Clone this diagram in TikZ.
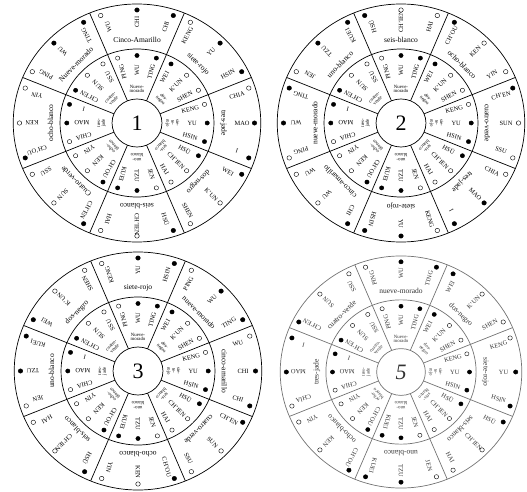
\documentclass[tikz,border=0pt]{standalone}
\usepackage{fontspec}
\setmainfont{Liberation Serif}
\tikzset{
  rim/.style={line width=0.7pt},
  word/.style={font=\fontsize{6.4}{7}\selectfont, inner sep=0pt},
  tag/.style={font=\fontsize{7.5}{8}\selectfont, inner sep=0pt},
  small tag/.style={font=\fontsize{4.8}{4.8}\selectfont, align=center, inner sep=0pt},
  yin/.style={fill=black, draw=black, line width=0.4pt},
  yang/.style={fill=white, draw=black, line width=0.4pt},
  num/.style={font=\fontsize{22}{22}\selectfont},
}
% the inner ring is the same in every wheel
\newcommand\innerring{%
  \draw[rim] (0,0) circle (24) (0,0) circle (74) (0,0) circle (119);
  \foreach \a in {22.5,67.5,...,337.5}
    \draw[rim] (\a:24) -- (\a:119);
  \foreach \a/\lab/\wa/\wb/\wc/\da/\db/\dc in {
      90/{Nueve-\\morado}/PING/WU/TING/yang/yin/yin,
      45/{dos-\\negro}/WEI/K'UN/SHEN/yin/yang/yang,
      0/{sie-\\te-\\rojo}/KENG/YU/HSIN/yang/yin/yin,
      -45/{seis-\\blanco}/HSÜ/CH'IEN/HAI/yin/yang/yang,
      -90/{uno-\\blanco}/JEN/TZU/KUEI/yang/yin/yin,
      -135/{ocho-\\blanco}/CH'OU/KEN/YIN/yin/yang/yang,
      180/{tres-\\jade}/CHIA/MAO/I/yang/yin/yin,
      135/{cuatro-\\verde}/CH'EN/SUN/SSU/yin/yang/yang}{
    \node[small tag, rotate=\a-90] at (\a:34) {\lab};
    \node[word, rotate=\a+15] at (\a+15:53) {\wa};
    \node[word, rotate=\a] at (\a:53) {\wb};
    \node[word, rotate=\a-15] at (\a-15:53) {\wc};
    \filldraw[\da] (\a+16:67.5) circle (2.1);
    \filldraw[\db] (\a:67.5) circle (2.1);
    \filldraw[\dc] (\a-16:67.5) circle (2.1);
  }}
% outer ring: one star per sector
\newcommand\outerring[1]{%
  \foreach \a/\lab/\wa/\wb/\wc/\da/\db/\dc in {#1}{
    \node[tag, rotate=\a-90] at (\a:83) {\lab};
    \node[word, rotate=\a+16] at (\a+16:100) {\wa};
    \node[word, rotate=\a] at (\a:101) {\wb};
    \node[word, rotate=\a-16] at (\a-16:100) {\wc};
    \filldraw[\da] (\a+18:113) circle (2.2);
    \filldraw[\db] (\a:113) circle (2.2);
    \filldraw[\dc] (\a-18:113) circle (2.2);
  }}

\begin{document}
\begin{tikzpicture}[x=1pt, y=1pt]
\useasboundingbox (0,0) rectangle (527,491);

% wheel 1
\begin{scope}[shift={(137,368)}, xscale=1.04]
  \innerring
  \outerring{90/Cinco-Amarillo/WU/CHI/CHI/yang/yin/yin,
    45/siete-rojo/KENG/YU/HSIN/yang/yin/yin,
    0/tres-jade/CHIA/MAO/I/yang/yin/yin,
    -45/dos-negro/WEI/K'UN/SHEN/yin/yang/yang,
    -90/seis-blanco/HSÜ/CH'IEN/HAI/yin/yang/yang,
    -135/Cuatro-verde/CH'EN/SUN/SSU/yin/yang/yang,
    180/ocho-blanco/CH'OU/KEN/YIN/yin/yang/yang,
    135/Nueve-morado/PING/WU/TING/yang/yin/yin}
  \node[num] (one) at (0,0) {1};
\end{scope}

% wheel 2
\begin{scope}[shift={(401,368)}, xscale=1.04]
  \innerring
  \outerring{90/seis-blanco/HSÜ/CH'IEN/HAI/yin/yang/yang,
    45/ocho-blanco/CH'OU/KEN/YIN/yin/yang/yang,
    0/cuatro-verde/CH'EN/SUN/SSU/yin/yang/yang,
    -45/tres-jade/CHIA/MAO/I/yang/yin/yin,
    -90/siete-rojo/KENG/YU/HSIN/yang/yin/yin,
    -135/cinco-amarillo/CHI/WU/WU/yin/yang/yang,
    180/nueve-morado/PING/WU/TING/yang/yin/yin,
    135/uno-blanco/JEN/TZU/KUEI/yang/yin/yin}
  \node[num] (two) at (0,0) {2};
\end{scope}

% wheel 3
\begin{scope}[shift={(138,120)}, xscale=1.04]
  \innerring
  \outerring{90/siete-rojo/KENG/YU/HSIN/yang/yin/yin,
    45/nueve-morado/PING/WU/TING/yang/yin/yin,
    0/cinco-amarillo/WU/CHI/CHI/yang/yin/yin,
    -45/cuatro-verde/CH'EN/SUN/SSU/yin/yang/yang,
    -90/ocho-blanco/CH'OU/KEN/YIN/yin/yang/yang,
    -135/seis-blanco/HSÜ/CH'IEN/HAI/yin/yang/yang,
    180/uno-blanco/JEN/TZU/KUEI/yang/yin/yin,
    135/dos-negro/WEI/K'UN/SHEN/yin/yang/yang}
  \node[num] (three) at (0,0) {3};
\end{scope}

% wheel 5, printed lighter
\begin{scope}[shift={(401,119)}, xscale=1.015, yscale=0.975, draw=black!55, text=black!80]
  \innerring
  \outerring{90/nueve-morado/PING/WU/TING/yang/yin/yin,
    45/dos-negro/WEI/K'UN/SHEN/yin/yang/yang,
    0/siete-rojo/KENG/YU/HSIN/yang/yin/yin,
    -45/seis-blanco/HSÜ/CH'IEN/HAI/yin/yang/yang,
    -90/uno-blanco/JEN/TZU/KUEI/yang/yin/yin,
    -135/ocho-blanco/CH'OU/KEN/YIN/yin/yang/yang,
    180/tres-jade/CHIA/MAO/I/yang/yin/yin,
    135/cuatro-verde/CH'EN/SUN/SSU/yin/yang/yang}
  \node[num, font=\fontsize{22}{22}\selectfont\itshape] (five) at (0,0) {5};
\end{scope}
\end{tikzpicture}
\end{document}
